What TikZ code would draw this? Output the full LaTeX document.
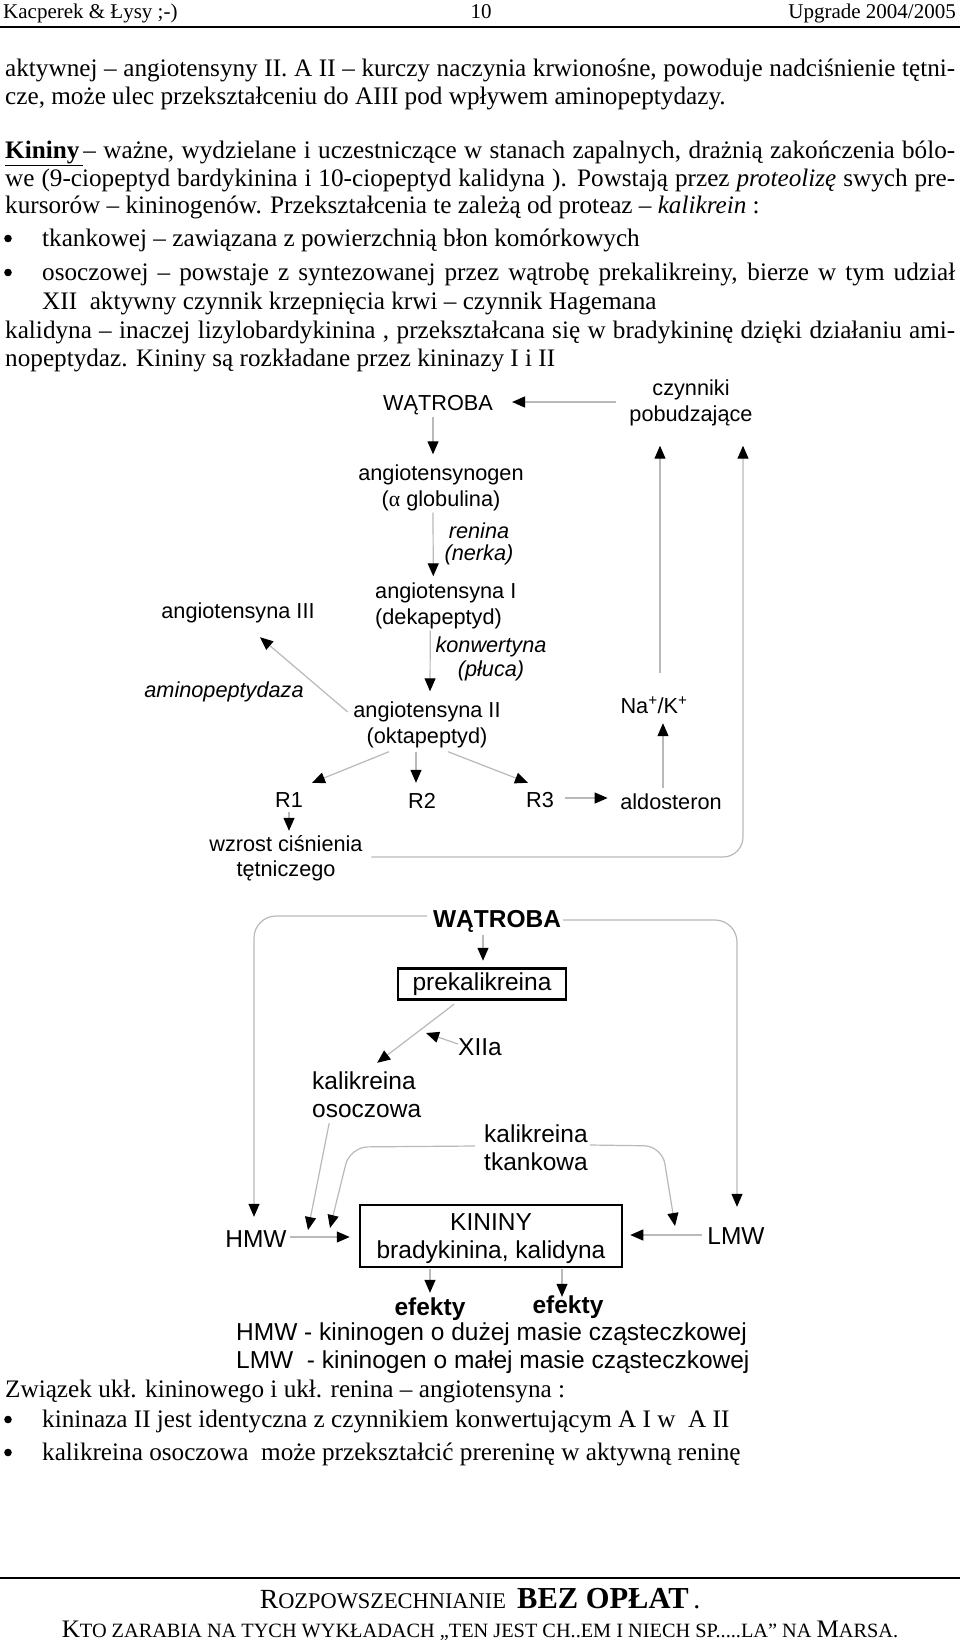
\documentclass[tikz,border=0pt]{standalone}
\usepackage{fontspec}
\setmainfont{Liberation Serif}
\newfontfamily\arial{Liberation Sans}
\usetikzlibrary{arrows.meta}
\newcommand\bigc[1]{{\fontsize{25.2}{28}\selectfont #1}}
\newcommand\smallc[1]{{\fontsize{20.3}{24}\selectfont #1}}
\newcommand\bigcc[1]{{\fontsize{27.7}{30}\selectfont #1}}
\newcommand\smallcc[1]{{\fontsize{22.4}{26}\selectfont #1}}
\newcommand\bigbc[1]{{\fontsize{30.5}{33}\selectfont\bfseries #1}}
\newcommand\mystrut{\rule[\dimexpr 3pt-0.3\baselineskip\relax]{0pt}{\baselineskip}}
\begin{document}
\begin{tikzpicture}[x=1pt,y=-1pt,
  body/.style={font=\fontsize{25.2}{28}\selectfont, inner sep=0pt, anchor=base west},
  bul/.style={circle, fill=black, inner sep=0pt, minimum size=7.6pt},
  hdr/.style={font=\fontsize{21}{24}\selectfont, inner sep=0pt},
  foot/.style={inner sep=0pt, anchor=base},
  dA/.style={font=\arial\fontsize{21.7}{25}\selectfont, inner sep=0pt, align=center},
  dI/.style={font=\arial\itshape\fontsize{21.7}{22.5}\selectfont, inner sep=0pt, align=center},
  dB/.style={font=\arial\fontsize{24.5}{28}\selectfont, inner sep=0pt, align=center},
  dBb/.style={font=\arial\bfseries\fontsize{24.5}{28}\selectfont, inner sep=0pt, align=center},
  arr/.style={draw=gray!55, line width=1.2pt, -{Triangle[length=13pt,width=11pt,color=black]}},
  boxd/.style={draw=black, line width=2.5pt}
]
\fill[white] (0,0) rectangle (960,1642);
\useasboundingbox (0,0) rectangle (960,1642);

% ---------- header ----------
\node[hdr, anchor=base west] (h1) at (3,18.5) {Kacperek \& Łysy ;-)};
\node[hdr, anchor=base] (h2) at (481,18.5) {10};
\node[hdr, anchor=base east] (h3) at (956,18.5) {Upgrade 2004/2005};
\draw[line width=1.6pt] (0,27) -- (960,27);

% ---------- body text ----------
\node[body] (t1) at (5,76) {\makebox[950pt][s]{aktywnej – angiotensyny II. A II – kurczy naczynia krwionośne, powoduje nadciśnienie tętni-}};
\node[body] (t2) at (5,104) {cze, może ulec przekształceniu do AIII pod wpływem aminopeptydazy.};
\node[body] (t3) at (5,158) {\makebox[950pt][s]{\underline{\textbf{Kininy}\hspace{4pt}}– ważne, wydzielane i uczestniczące w stanach zapalnych, drażnią zakończenia bólo-}};
\node[body] (t4) at (5,186) {\makebox[950pt][s]{we (9-ciopeptyd bardykinina i 10-ciopeptyd kalidyna ). Powstają przez \textit{proteolizę} swych pre-}};
\node[body] (t5) at (5,213) {kursorów – kininogenów. Przekształcenia te zależą od proteaz – \textit{kalikrein} :};
\node[bul] (b1) at (8,238.5) {};
\node[body] (t6) at (42,246) {tkankowej – zawiązana z powierzchnią błon komórkowych};
\node[bul] (b2) at (8,272.5) {};
\node[body] (t7) at (42,280) {\makebox[913pt][s]{osoczowej – powstaje z syntezowanej przez wątrobę prekalikreiny, bierze w tym udział}};
\node[body] (t8) at (42,309) {XII\ \ aktywny czynnik krzepnięcia krwi – czynnik Hagemana};
\node[body] (t9) at (5,338) {\makebox[950pt][s]{kalidyna – inaczej lizylobardykinina , przekształcana się w bradykininę dzięki działaniu ami-}};
\node[body] (t10) at (5,366) {nopeptydaz. Kininy są rozkładane przez kininazy I i II};

% ---------- diagram 1 ----------
\node[dA] (wat1) at (438,402) {\mystrut WĄTROBA};
\node[dA] (czyn) at (691,400.5) {\mystrut czynniki\\\mystrut pobudzające};
\node[dA] (agen) at (441,485.5) {\mystrut angiotensynogen\\\mystrut ({\rmfamily α} globulina)};
\node[dI] (ren) at (479,542.5) {\mystrut renina\\\mystrut (nerka)};
\node[dA, align=left, anchor=west] (aI) at (375,603) {\mystrut angiotensyna I\\\mystrut (dekapeptyd)};
\node[dI] (konw) at (491,657) {\mystrut konwertyna\\\mystrut (płuca)};
\node[dA] (aII) at (427,722) {\mystrut angiotensyna II\\\mystrut (oktapeptyd)};
\node[dA] (aIII) at (238,610) {\mystrut angiotensyna III};
\node[dI] (amino) at (224,690) {\mystrut aminopeptydaza};
\node[dA] (nak) at (654,705) {\mystrut Na\textsuperscript{+}/K\textsuperscript{+}};
\node[dA] (r1) at (289,799) {\mystrut R1};
\node[dA] (r2) at (422,800) {\mystrut R2};
\node[dA] (r3) at (540,799) {\mystrut R3};
\node[dA] (ald) at (671,801) {\mystrut aldosteron};
\node[dA] (wzr) at (286,856) {\mystrut wzrost ciśnienia\\\mystrut tętniczego};

\draw[arr] ([shift={(-13.5,1.5)}]czyn.west) -- ([shift={(19,0)}]wat1.east);
\draw[arr] ([shift={(-5,2.5)}]wat1.south) -- ([shift={(-8,-5.5)}]agen.north);
\draw[arr] ([shift={(-8,1.5)}]agen.south) -- ([shift={(-12.5,-1)}]aI.north);
\draw[arr] ([shift={(-15.5,2)}]aI.south) -- ([shift={(3,-5)}]aII.north);
\draw[arr] ([shift={(-5.5,-10)}]aII.west) -- ([shift={(22,14.5)}]aIII.south);
\draw[arr] ([shift={(6,-19.5)}]nak.north) -- ([shift={(-31,19.5)}]czyn.south);
\draw[arr] ([shift={(-8,-0.5)}]ald.north) -- ([shift={(9,5.5)}]nak.south);
\draw[arr] ([shift={(11,-1)}]r3.east) -- ([shift={(-12.5,-3)}]ald.west);
\draw[arr] ([shift={(-38,4)}]aII.south) -- ([shift={(23,-3.5)}]r1.north);
\draw[arr] ([shift={(-11,4)}]aII.south) -- ([shift={(-6,-4.5)}]r2.north);
\draw[arr] ([shift={(21,4)}]aII.south) -- ([shift={(-12,-3.5)}]r3.north);
\draw[arr] ([shift={(0,0.5)}]r1.south) -- ([shift={(3,0)}]wzr.north);
\draw[arr, rounded corners=20pt] ([shift={(8.5,1)}]wzr.east) -| ([shift={(52,19.5)}]czyn.south);

% ---------- diagram 2 ----------
\node[dBb] (wat2) at (497,919) {\mystrut WĄTROBA};
\node[dB, boxd, minimum width=168pt, minimum height=31pt] (prek) at (482,984) {prekalikreina};
\node[dB] (xii) at (480,1047) {\mystrut XIIa};
\node[dB, align=left, anchor=west] (kos) at (312,1095) {\mystrut kalikreina\\\mystrut osoczowa};
\node[dB, align=left, anchor=west] (ktk) at (484,1147.5) {\mystrut kalikreina\\\mystrut tkankowa};
\node[dB] (hmw) at (256,1239) {\mystrut HMW};
\node[dB] (lmw) at (736,1236) {\mystrut LMW};
\node[dB, boxd, minimum width=262pt, minimum height=62pt] (kin) at (491,1236) {\mystrut KININY\\\mystrut bradykinina, kalidyna};
\node[dBb] (ef1) at (430,1307) {\mystrut efekty};
\node[dBb] (ef2) at (568,1305) {\mystrut efekty};
\node[dB, anchor=west] (leg1) at (236,1332) {\mystrut HMW - kininogen o dużej masie cząsteczkowej};
\node[dB, anchor=west] (leg2) at (236,1360) {\mystrut LMW\ \ - kininogen o małej masie cząsteczkowej};

\coordinate (xiitip) at (426,1033);
\coordinate (hmwA) at (308,1230);
\coordinate (hmwB) at (330,1228);
\coordinate (lmwA) at (675,1226);

\draw[arr, rounded corners=22pt] ([shift={(-6,-3)}]wat2.west) -| ([shift={(-2,-8)}]hmw.north);
\draw[arr, rounded corners=22pt] ([shift={(2,1)}]wat2.east) -| ([shift={(1,-15)}]lmw.north);
\draw[arr] ([shift={(-14,2)}]wat2.south) -- ([shift={(1,-6.5)}]prek.north);
\draw[arr] ([shift={(-28,3.5)}]prek.south) -- ([shift={(10.5,-4)}]kos.north);
\draw[arr] ([shift={(0,-3)}]xii.west) -- (xiitip);
\draw[arr] ([shift={(-37.5,0)}]kos.south) -- (hmwA);
\draw[arr, rounded corners=18pt] ([shift={(-9,-1.5)}]ktk.west) -- (350,1147) -- (hmwB);
\draw[arr, rounded corners=18pt] ([shift={(2,-2.5)}]ktk.east) -- (662,1146) -- (lmwA);
\draw[arr] ([shift={(3.5,-2)}]hmw.east) -- ([shift={(-9,1)}]kin.west);
\draw[arr] ([shift={(-5.5,-1)}]lmw.west) -- ([shift={(7,-1)}]kin.east);
\draw[arr] ([shift={(-61,1)}]kin.south) -- (ef1.north);
\draw[arr] ([shift={(71,1)}]kin.south) -- ([shift={(-6,6)}]ef2.north);

% ---------- text after diagram ----------
\node[body] (t11) at (5,1397) {Związek ukł. kininowego i ukł. renina – angiotensyna :};
\node[bul] (b3) at (8,1419.5) {};
\node[body] (t12) at (42,1427) {kininaza II jest identyczna z czynnikiem konwertującym A I w\ \ A II};
\node[bul] (b4) at (8,1452.5) {};
\node[body] (t13) at (42,1460) {kalikreina osoczowa\ \ może przekształcić prereninę w aktywną reninę};

% ---------- footer ----------
\draw[line width=1.4pt] (0,1578) -- (960,1578);
\node[foot] (f1) at (480,1608) {\bigcc{R}\smallcc{OZPOWSZECHNIANIE\ \ }\bigbc{BEZ OPŁAT}\bigcc{\,.}};
\node[foot] (f2) at (480,1637) {\bigc{K}\smallc{TO ZARABIA NA TYCH WYKŁADACH „TEN JEST CH..EM I NIECH SP.....LA” NA }\bigc{M}\smallc{ARSA.}};
\end{tikzpicture}
\end{document}
